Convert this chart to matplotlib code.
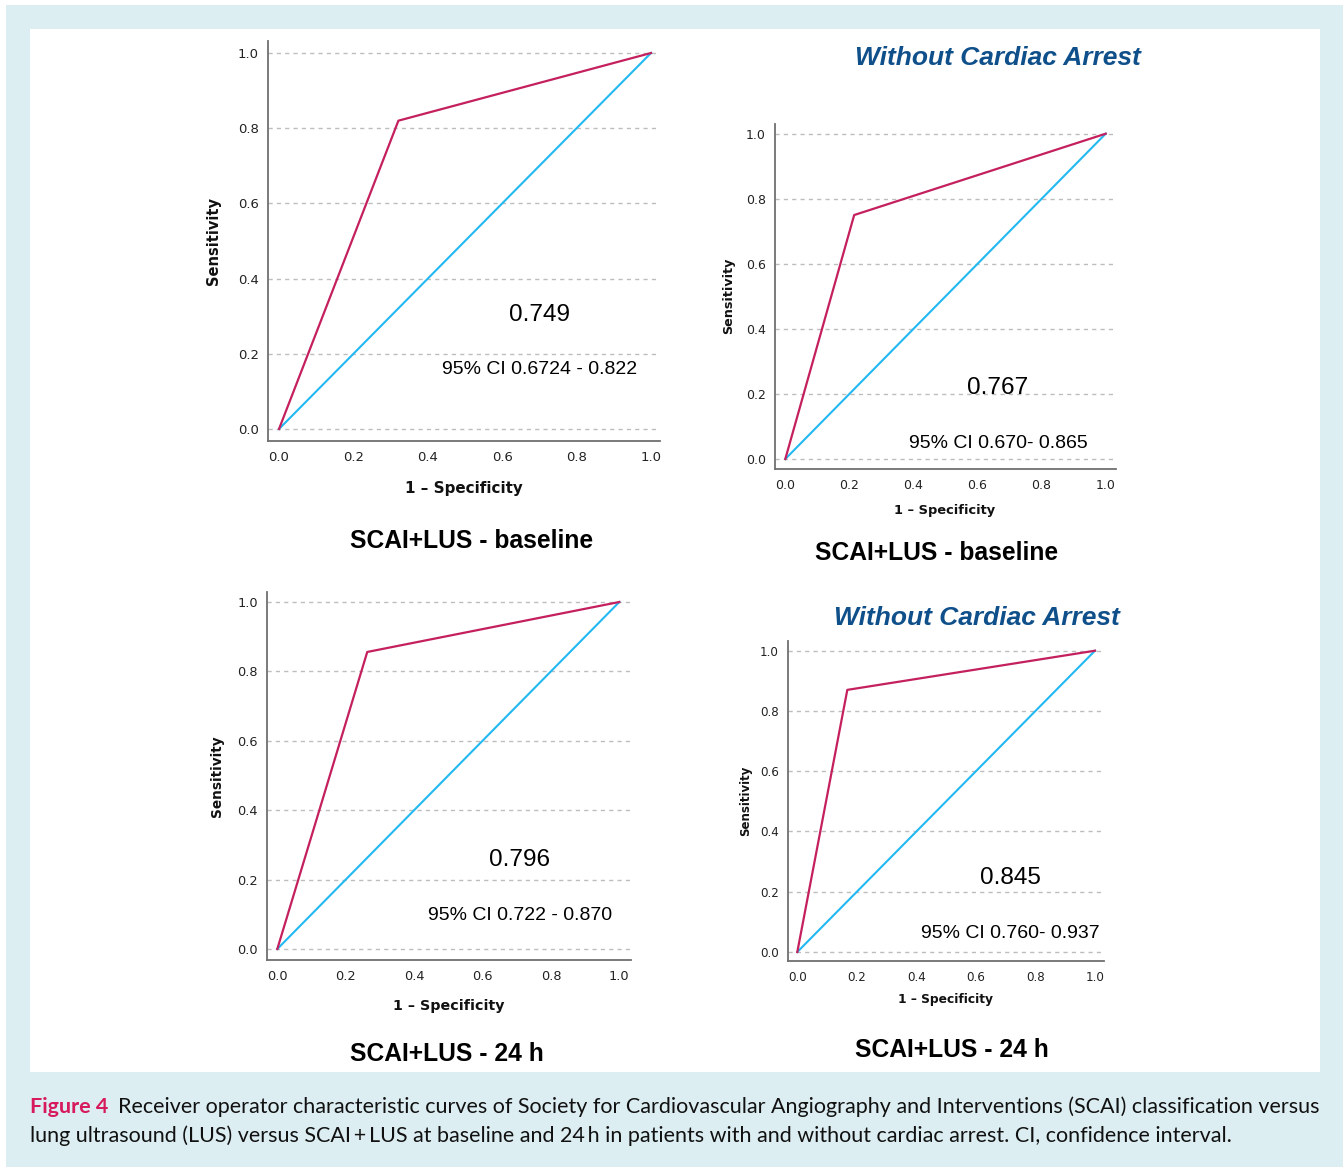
import matplotlib
matplotlib.use("Agg")
import matplotlib.pyplot as plt
from matplotlib.patches import Rectangle

# ---------------- data ----------------
panel_ids = ["baseline_all", "baseline_nca", "24h_all", "24h_nca"]
roc_fpr = [[0.0, 0.321, 1.0], [0.0, 0.215, 1.0], [0.0, 0.263, 1.0], [0.0, 0.168, 1.0]]
roc_tpr = [[0.0, 0.820, 1.0], [0.0, 0.750, 1.0], [0.0, 0.856, 1.0], [0.0, 0.870, 1.0]]
ref_x = [0.0, 1.0]
ref_y = [0.0, 1.0]
auc_labels = ["0.749", "0.767", "0.796", "0.845"]
ci_labels = ["95% CI 0.6724 - 0.822", "95% CI 0.670- 0.865",
             "95% CI 0.722 - 0.870", "95% CI 0.760- 0.937"]
titles = ["SCAI+LUS - baseline", "SCAI+LUS - baseline",
          "SCAI+LUS - 24 h", "SCAI+LUS - 24 h"]
subgroup = [None, "Without Cardiac Arrest", None, "Without Cardiac Arrest"]
tick_vals = [0.0, 0.2, 0.4, 0.6, 0.8, 1.0]
tick_labels = ["0.0", "0.2", "0.4", "0.6", "0.8", "1.0"]
xlabel = "1 \u2013 Specificity"
ylabel = "Sensitivity"
caption_head = "Figure 4"
caption_line1 = ("Receiver operator characteristic curves of Society for Cardiovascular "
                 "Angiography and Interventions (SCAI) classification versus")
caption_line2 = ("lung ultrasound (LUS) versus SCAI\u2009+\u2009LUS at baseline and 24\u2009h in "
                 "patients with and without cardiac arrest. CI, confidence interval.")

# ---------------- layout (pixels) ----------------
W, H = 1343, 1167
DPI = 100
# spine_x, x_end, top, axis_y, px(x=0), px(x=1), py(y=0), py(y=1)
geom = [
    (268, 660, 41, 441, 279.0, 651.0, 429.0, 53.0),
    (775, 1116, 124, 469, 785.3, 1105.7, 459.0, 133.7),
    (267, 631, 592, 960, 277.3, 619.3, 949.0, 602.0),
    (788, 1104, 641, 961, 797.3, 1095.0, 952.0, 650.7),
]
tick_fs = [9.5, 9.0, 9.3, 8.6]
sens_fs = [10.5, 9.2, 9.8, 8.5]
spec_fs = [10.9, 9.4, 10.3, 8.8]
sens_pos = [(214, 241), (729, 296), (217, 776), (746, 801)]
spec_pos = [(464, 489), (945, 511), (449, 1006), (945, 1000)]
auc_pos = [(540, 315), (998, 388), (520, 860), (1010, 878)]
ci_pos = [(540, 370), (998, 444), (520, 916), (1010, 934)]
title_pos = [(472, 541), (937, 553), (447, 1054), (952, 1050)]
sub_pos = [None, (998, 58), None, (977, 618)]

RED = "#c4205e"
BLUE = "#22b8f2"
NAVY = "#0f4f8a"
BGBLUE = "#ddeef3"
CAPRED = "#d61a5c"

fig = plt.figure(figsize=(W / DPI, H / DPI), dpi=DPI, facecolor="white")


def fx(px):
    return px / W


def fy(py):
    return 1 - py / H


# background frame
fig.patches.append(Rectangle((fx(6), 0), 1 - fx(6), fy(5), transform=fig.transFigure,
                             facecolor=BGBLUE, edgecolor="none", zorder=-10))
fig.patches.append(Rectangle((fx(30), fy(1072)), fx(1320) - fx(30), fy(29) - fy(1072),
                             transform=fig.transFigure, facecolor="white",
                             edgecolor="none", zorder=-9))

for i in range(4):
    sx, xe, top, ay, x0, x1, y0, y1 = geom[i]
    ax = fig.add_axes([fx(sx), fy(ay), fx(xe) - fx(sx), fy(top) - fy(ay)])
    ax.set_facecolor("none")
    kx = x1 - x0
    ky = y0 - y1
    ax.set_xlim((sx - x0) / kx, (xe - x0) / kx)
    ax.set_ylim((y0 - ay) / ky, (y0 - top) / ky)
    for s in ["top", "right"]:
        ax.spines[s].set_visible(False)
    for s in ["left", "bottom"]:
        ax.spines[s].set_color("#707070")
        ax.spines[s].set_linewidth(1.3)
    ax.set_xticks(tick_vals)
    ax.set_xticklabels(tick_labels)
    ax.set_yticks(tick_vals)
    ax.set_yticklabels(tick_labels)
    ax.tick_params(length=0, labelsize=tick_fs[i], colors="#222222", pad=6.5)
    ax.tick_params(axis="x", pad=7.5)
    ax.yaxis.grid(True, linestyle=(0, (3, 3)), color="#bdbdbd", linewidth=1.0)
    ax.set_axisbelow(True)
    ax.plot(ref_x, ref_y, color=BLUE, linewidth=1.5, zorder=3)
    ax.plot(roc_fpr[i], roc_tpr[i], color=RED, linewidth=1.6, zorder=4)

    fig.text(fx(sens_pos[i][0]), fy(sens_pos[i][1]), ylabel, rotation=90,
             ha="center", va="center", fontsize=sens_fs[i], fontweight="bold",
             family="DejaVu Sans", color="#111111")
    fig.text(fx(spec_pos[i][0]), fy(spec_pos[i][1]), xlabel,
             ha="center", va="center", fontsize=spec_fs[i], fontweight="bold",
             family="DejaVu Sans", color="#111111")
    fig.text(fx(auc_pos[i][0]), fy(auc_pos[i][1]), auc_labels[i],
             ha="center", va="center", fontsize=17.6, family="Liberation Sans",
             color="black")
    fig.text(fx(ci_pos[i][0]), fy(ci_pos[i][1]), ci_labels[i],
             ha="center", va="center", fontsize=14, family="Liberation Sans",
             color="black")
    fig.text(fx(title_pos[i][0]), fy(title_pos[i][1]), titles[i],
             ha="center", va="center", fontsize=17.7, fontweight="bold",
             family="Liberation Sans", color="black")
    if subgroup[i]:
        fig.text(fx(sub_pos[i][0]), fy(sub_pos[i][1]), subgroup[i],
                 ha="center", va="center", fontsize=19, fontweight="bold",
                 style="italic", family="Liberation Sans", color=NAVY)

# ---------------- caption ----------------
cap_family = ["Lato", "DejaVu Sans"]
fs = 14.0
fig.canvas.draw()
renderer = fig.canvas.get_renderer()
t_head = fig.text(fx(30), fy(1107), caption_head, ha="left", va="center",
                  fontsize=fs, fontweight="bold", color=CAPRED, family=cap_family)
t_l1 = fig.text(0, fy(1107), caption_line1, ha="left", va="center",
                fontsize=fs, color="#111111", family=cap_family)
t_l2 = fig.text(fx(30), fy(1136), caption_line2, ha="left", va="center",
                fontsize=fs, color="#111111", family=cap_family)
wh = t_head.get_window_extent(renderer).width
w1 = t_l1.get_window_extent(renderer).width
gap = 0.45 * fs * DPI / 72
scale = 1290.0 / (wh + gap + w1)
fs2 = fs * scale
for t in (t_head, t_l1, t_l2):
    t.set_fontsize(fs2)
fig.canvas.draw()
wh = t_head.get_window_extent(renderer).width
t_l1.set_x(fx(30 + wh + gap * scale))

fig.savefig("out.png", dpi=DPI, facecolor="white")
